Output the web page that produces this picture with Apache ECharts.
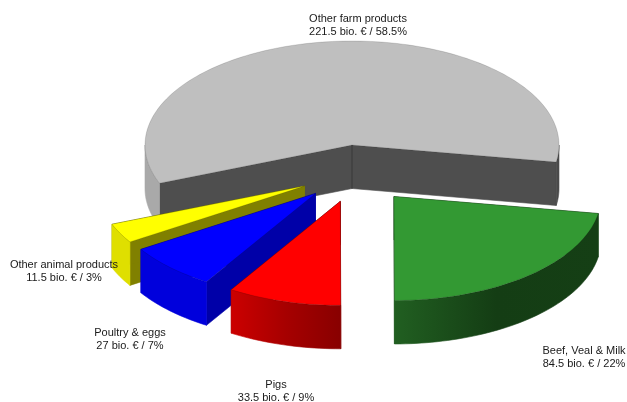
<!DOCTYPE html>
<html>
<head>
<meta charset="utf-8">
<style>html,body{margin:0;padding:0;background:#fff}#c{width:627px;height:402px}</style>
<script src="https://cdn.jsdelivr.net/npm/echarts@6/dist/echarts.min.js"></script>
</head>
<body>
<div id="c"></div>
<script>
// ---- data ----
const categories = ["Other farm products", "Beef, Veal & Milk", "Pigs", "Poultry & eggs", "Other animal products"];
const values = [221.5, 84.5, 33.5, 27, 11.5];
const percentLabels = ["58.5%", "22%", "9%", "7%", "3%"];

// ---- 3D look ----
const CX = 352, CY = 145, RX = 207, RY = 104, DEPTH = 43.5, START_DEG = 158.45;
const explodeX = [0, 42, -11.7, -36.5, -47.5];
const explodeY = [0, 51.5, 56.3, 48.4, 41];
const topColors = ["#bfbfbf", "#339933", "#ff0000", "#0000ff", "#ffff00"];
const innerColors = ["#4e4e4e", "#1a4d1a", "#800000", "#0000a8", "#808000"];
const drawOrder = [0, 4, 3, 2, 1];
const labelX = [358, 584, 276, 130, 64];
const labelY = [25, 357, 391, 339, 271];

function wallFill(i, midDeg) {
  const grad = (a, b, c) => new echarts.graphic.LinearGradient(0, 0, 1, 0, [
    { offset: 0, color: a }, { offset: 0.5, color: b }, { offset: 1, color: c }
  ]);
  switch (i) {
    case 0: return midDeg > 90 ? "#a9a9a9" : "#4a4a4a";
    case 1: return grad("#215f21", "#143d14", "#153f15");
    case 2: return grad("#cc0000", "#a60000", "#880000");
    case 3: return "#0000dc";
    default: return "#dfdf00";
  }
}

const total = values.reduce((a, b) => a + b, 0);
const startAngles = [];
values.reduce((acc, v, i) => { startAngles[i] = acc >= 360 ? acc - 360 : acc; return acc + v / total * 360; }, START_DEG);

function rim(ox, oy, deg, drop) {
  const t = deg * Math.PI / 180;
  return [ox + RX * Math.cos(t), oy + RY * Math.sin(t) + drop];
}
function arc(ox, oy, a, b, drop) {
  const n = Math.max(2, Math.ceil(Math.abs(b - a) / 1.5));
  const pts = [];
  for (let k = 0; k <= n; k++) pts.push(rim(ox, oy, a + (b - a) * k / n, drop));
  return pts;
}
function poly(points, fill, stroke) {
  return { type: "polygon", shape: { points }, style: { fill, stroke: stroke || fill, lineWidth: 0.6 } };
}

function renderSlice(params, api) {
  const i = api.value(0);
  const a = startAngles[i], b = a + values[i] / total * 360;
  const ox = CX + explodeX[i], oy = CY + explodeY[i];
  const children = [];
  [a, b].forEach(d => {
    children.push(poly([[ox, oy], rim(ox, oy, d, 0), rim(ox, oy, d, DEPTH), [ox, oy + DEPTH]], innerColors[i]));
  });
  if (i === 0) {
    children.push({ type: "line", shape: { x1: ox, y1: oy, x2: ox, y2: oy + DEPTH }, style: { stroke: "#3a3a3a", lineWidth: 1 } });
  }
  [[0, 180], [360, 540]].forEach(([lo, hi]) => {
    const s = Math.max(a, lo), e = Math.min(b, hi);
    if (e > s) {
      const pts = arc(ox, oy, s, e, 0).concat(arc(ox, oy, e, s, DEPTH));
      children.push(poly(pts, wallFill(i, ((s + e) / 2) % 360)));
    }
  });
  const top = [[ox, oy]].concat(arc(ox, oy, a, b, 0));
  children.push(poly(top, topColors[i], "rgba(0,0,0,0.22)"));
  return { type: "group", children };
}

function renderLabel(params, api) {
  const i = api.value(0);
  return {
    type: "text",
    style: {
      x: labelX[i], y: labelY[i],
      text: categories[i] + "\n" + values[i] + " bio. € / " + percentLabels[i],
      fill: "#1a1a1a",
      font: "11px 'Liberation Sans'",
      lineHeight: 13,
      align: "center",
      verticalAlign: "middle"
    }
  };
}

const chart = echarts.init(document.getElementById("c"), null, { renderer: "canvas" });
chart.setOption({
  animation: false,
  backgroundColor: "#ffffff",
  series: [
    { type: "custom", coordinateSystem: "none", renderItem: renderSlice, data: drawOrder.map(i => [i]), z: 1, silent: true },
    { type: "custom", coordinateSystem: "none", renderItem: renderLabel, data: categories.map((c, i) => [i]), z: 2, silent: true }
  ]
});
</script>
</body>
</html>
